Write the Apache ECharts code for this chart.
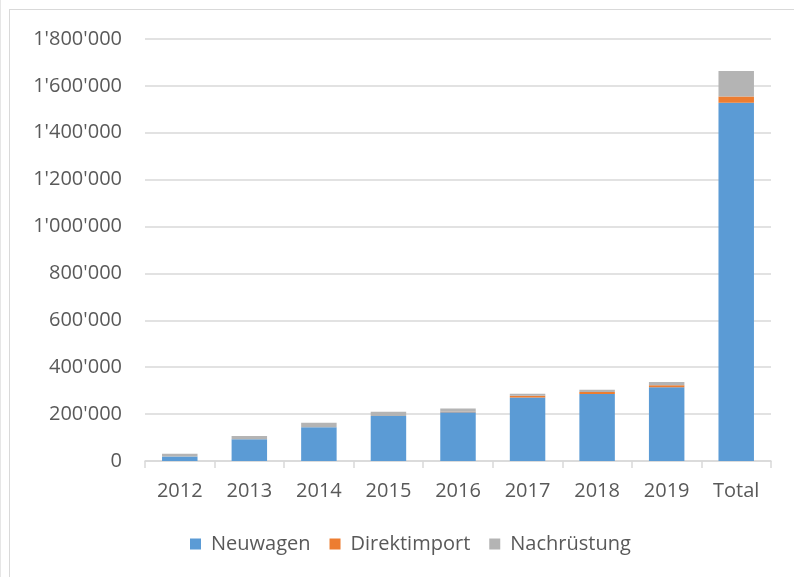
<!DOCTYPE html>
<html><head><meta charset="utf-8">
<script src="https://cdn.jsdelivr.net/npm/echarts@6/dist/echarts.min.js"></script>
<style>html,body{margin:0;padding:0;background:#fff}#c{width:794px;height:577px}
#frame{position:absolute;left:9px;top:9px;width:800px;height:600px;border:1px solid #d9d9d9;box-sizing:border-box;pointer-events:none}
#edge{position:absolute;left:0;top:0;width:1px;height:577px;background:#e6e6e6}</style>
</head><body><div id="c"></div><div id="frame"></div><div id="edge"></div>
<script>
const categories = ['2012','2013','2014','2015','2016','2017','2018','2019','Total'];
const neuwagen = [19000, 93000, 144000, 192000, 208000, 271000, 286000, 315000, 1528000];
const direktimport = [0, 0, 0, 0, 2000, 7000, 8000, 8000, 27000];
const nachruestung = [12000, 14000, 19000, 18000, 14000, 9000, 10000, 14000, 108000];
const seriesNames = ['Neuwagen','Direktimport','Nachrüstung'];
const yTicks = [0,200000,400000,600000,800000,1000000,1200000,1400000,1600000,1800000];

const fmt = v => String(v).replace(/\B(?=(\d{3})+(?!\d))/g, "'");
const font = '"Open Sans", Lato, sans-serif';
const chart = echarts.init(document.getElementById('c'));
const mk = (name, data, color) => ({name, type:'bar', stack:'a', data, barWidth:'51%',
  itemStyle:{color}, emphasis:{disabled:true}});
chart.setOption({
  animation:false,
  textStyle:{fontFamily:font},
  grid:{left:145,right:23,top:39,bottom:116,containLabel:false},
  legend:{bottom:18,left:185,itemWidth:11,itemHeight:11,itemGap:19,icon:'rect',
    textStyle:{fontSize:20,color:'#595959',fontFamily:font,padding:[0,0,0,5]},
    data:seriesNames},
  xAxis:{type:'category',data:categories,
    axisLine:{lineStyle:{color:'#d9d9d9',width:1.5}},
    axisTick:{show:true,length:7,lineStyle:{color:'#d9d9d9',width:1.5}},
    axisLabel:{fontSize:20,color:'#595959',margin:20,fontFamily:font}},
  yAxis:{type:'value',min:yTicks[0],max:yTicks[yTicks.length-1],interval:yTicks[1]-yTicks[0],
    axisLine:{show:false},axisTick:{show:false},
    splitLine:{lineStyle:{color:'#d9d9d9',width:1.5}},
    axisLabel:{fontSize:20,color:'#595959',margin:23,formatter:fmt,fontFamily:font}},
  series:[mk(seriesNames[0],neuwagen,'#5b9bd5'),mk(seriesNames[1],direktimport,'#ed7d31'),mk(seriesNames[2],nachruestung,'#b4b4b4')]
});
</script></body></html>
